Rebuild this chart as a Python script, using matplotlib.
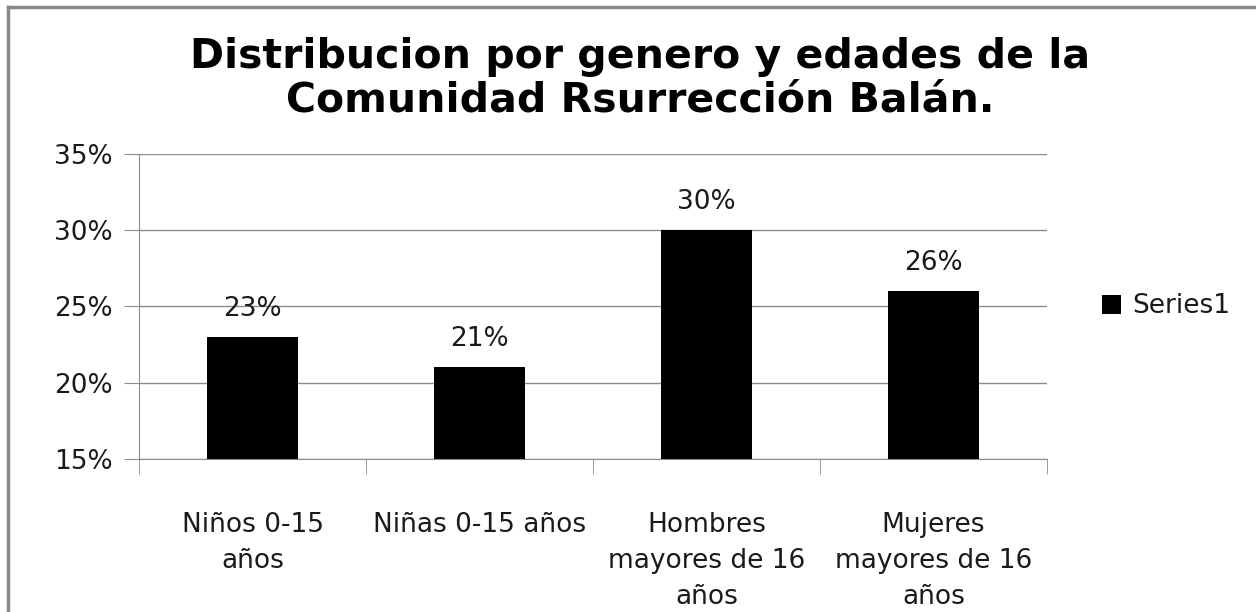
import matplotlib.pyplot as plt
from matplotlib.lines import Line2D
from matplotlib.ticker import FixedLocator, NullFormatter

# datos
categorias = ["Niños 0-15\naños", "Niñas 0-15 años",
              "Hombres\nmayores de 16\naños", "Mujeres\nmayores de 16\naños"]
valores = [23, 21, 30, 26]
yticks = [15, 20, 25, 30, 35]
titulo = "Distribucion por genero y edades de la\nComunidad Rsurrección Balán."
serie = "Series1"

fuente = ["DejaVu Sans"]
gris = "#8c8c8c"
texto = "#1a1a1a"
tam = 19

fig = plt.figure(figsize=(12.56, 6.12), dpi=100)
ax = fig.add_axes([0.1107, 0.25, 0.7229, 0.4984])

x = list(range(len(valores)))
barras = ax.bar(x, valores, width=0.4, color="black", label=serie, zorder=3)

ax.set_xlim(-0.5, len(valores) - 0.5)
ax.set_ylim(15, 35)
ax.set_yticks(yticks)
ax.set_yticklabels([f"{v}%" for v in yticks], family=fuente, fontsize=tam, color=texto)
ax.yaxis.grid(True, color=gris, linewidth=1, zorder=0)
ax.tick_params(axis="y", length=11, color=gris, pad=8)

# etiquetas de categoria centradas, ticks en los limites
ax.set_xticks(x)
ax.set_xticklabels(categorias, family=fuente, fontsize=tam, color=texto, linespacing=1.5)
ax.tick_params(axis="x", which="major", length=0, pad=38)
ax.xaxis.set_minor_locator(FixedLocator([i - 0.5 for i in range(len(valores) + 1)]))
ax.xaxis.set_minor_formatter(NullFormatter())
ax.tick_params(axis="x", which="minor", length=11, color=gris, direction="out")

for lado in ["top", "right"]:
    ax.spines[lado].set_visible(False)
ax.spines["left"].set_color(gris)
ax.spines["bottom"].set_color(gris)

for b, v in zip(barras, valores):
    ax.annotate(f"{v}%", (b.get_x() + b.get_width() / 2, v), xytext=(0, 11),
                textcoords="offset points", ha="center", va="bottom",
                family=fuente, fontsize=tam, color=texto)

fig.text(0.51, 0.871, titulo, ha="center", va="center", family=["DejaVu Sans"],
         fontsize=29.5, fontweight="bold", linespacing=1.1)

ax.legend(loc="center left", bbox_to_anchor=(1.034, 0.5), frameon=False,
          prop={"family": fuente, "size": tam}, handlelength=0.75, handleheight=0.75,
          handletextpad=0.4, labelcolor=texto)

# borde gris (solo arriba e izquierda)
fig.add_artist(Line2D([0.0064, 1.0], [0.9886, 0.9886], color="#888888", linewidth=2.5,
                      transform=fig.transFigure))
fig.add_artist(Line2D([0.0064, 0.0064], [0.0, 0.9886], color="#888888", linewidth=2.5,
                      transform=fig.transFigure))

fig.savefig("out.png", dpi=100)
